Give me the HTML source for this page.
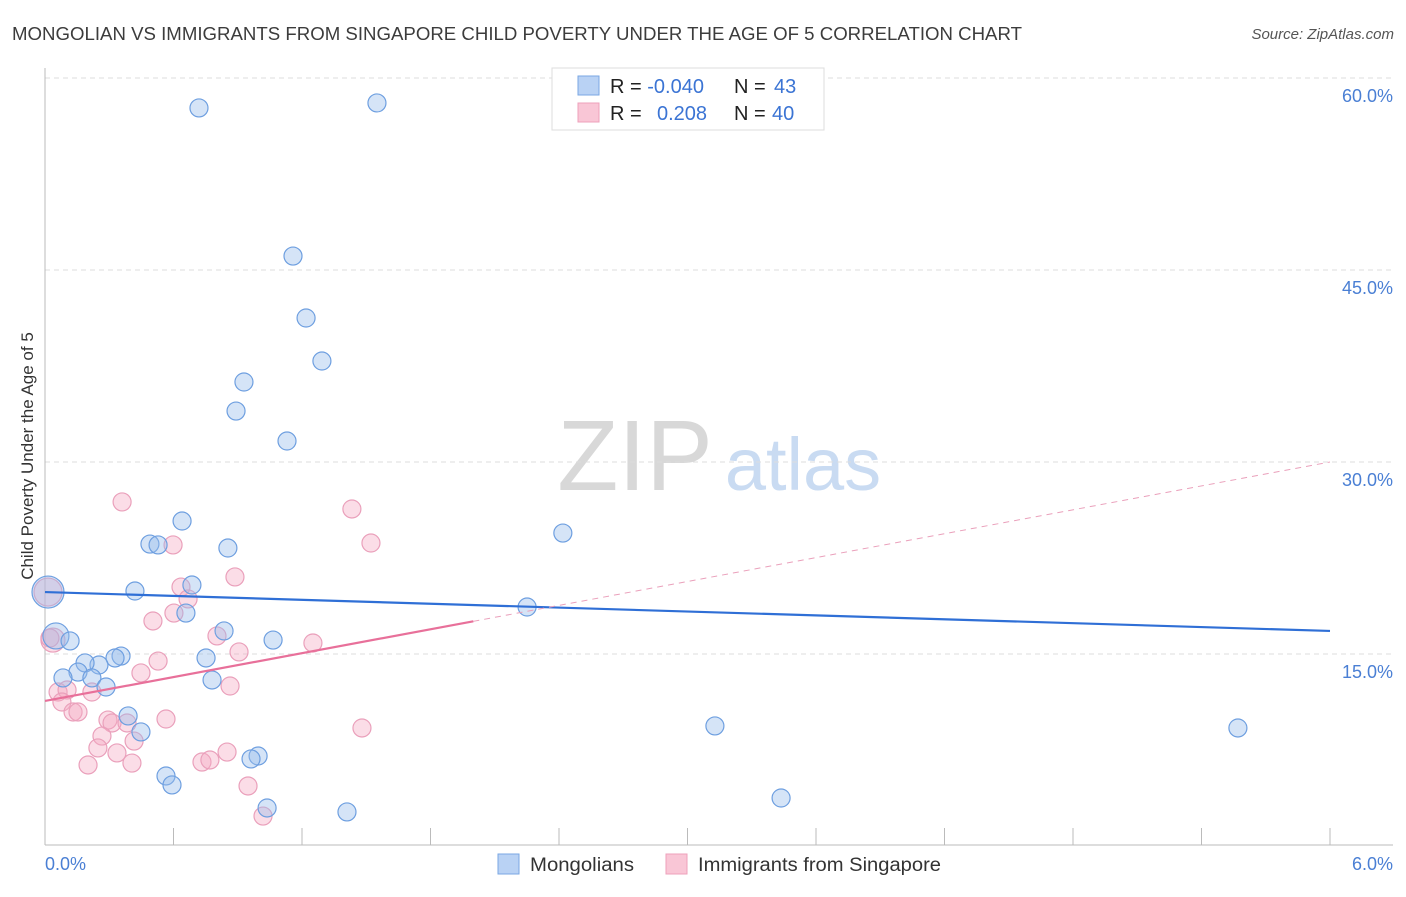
<!DOCTYPE html>
<html><head><meta charset="utf-8"><style>
body{margin:0;background:#fff;font-family:"Liberation Sans",sans-serif;}
svg text{font-family:"Liberation Sans",sans-serif;}
</style></head><body>
<svg id="chart" width="1406" height="892" xmlns="http://www.w3.org/2000/svg">
<text x="12" y="40" font-size="18" fill="#3c3c3c" textLength="1010" lengthAdjust="spacingAndGlyphs">MONGOLIAN VS IMMIGRANTS FROM SINGAPORE CHILD POVERTY UNDER THE AGE OF 5 CORRELATION CHART</text>
<text x="1394" y="39" font-size="15" fill="#555" text-anchor="end" font-style="italic">Source: ZipAtlas.com</text>
<g>
<text x="635" y="490" font-size="100" fill="#d8d8d8" text-anchor="middle" font-family="Liberation Serif, serif">ZIP</text>
<text x="803" y="490" font-size="74" fill="#c9dbf2" text-anchor="middle">atlas</text>
</g>
<g id="grid"></g><g id="axes"></g><g id="pts"></g><g id="lines"></g>
<text transform="translate(33,456) rotate(-90)" font-size="17" fill="#333" text-anchor="middle">Child Poverty Under the Age of 5</text>
<g>
<rect x="552" y="68" width="272" height="62" fill="#fff" stroke="#ddd"/>
<rect x="578" y="76" width="21" height="19" fill="#b9d2f4" stroke="#7aa7e3"/>
<rect x="578" y="103" width="21" height="19" fill="#f9c6d6" stroke="#eea0bb"/>
<text x="610" y="93" font-size="20" fill="#222">R = <tspan fill="#3b74d4">-0.040</tspan></text>
<text x="734" y="93" font-size="20" fill="#222">N = <tspan fill="#3b74d4" x="774">43</tspan></text>
<text x="610" y="120" font-size="20" fill="#222">R = <tspan fill="#3b74d4" x="657">0.208</tspan></text>
<text x="734" y="120" font-size="20" fill="#222">N = <tspan fill="#3b74d4" x="772">40</tspan></text>
</g>
<g>
<rect x="498" y="854" width="21" height="20" fill="#b9d2f4" stroke="#7aa7e3"/>
<text x="530" y="871" font-size="19" fill="#333" textLength="104" lengthAdjust="spacingAndGlyphs">Mongolians</text>
<rect x="666" y="854" width="21" height="20" fill="#f9c6d6" stroke="#eea0bb"/>
<text x="698" y="871" font-size="19" fill="#333" textLength="243" lengthAdjust="spacingAndGlyphs">Immigrants from Singapore</text>
</g>
</svg>
<script>
const blueX=[0.719,1.550,1.158,1.219,1.293,0.929,0.892,1.130,0.640,0.490,0.528,0.854,2.418,0.686,0.420,0.658,0.014,0.051,0.117,0.836,1.065,0.752,0.355,0.327,0.252,0.187,0.154,0.084,0.219,0.285,0.780,2.251,0.388,0.448,3.128,5.570,0.995,0.962,0.565,0.593,1.037,1.410,3.437];
const blueY=[57.66,58.05,46.09,41.25,37.89,36.25,33.98,31.64,25.39,23.59,23.52,23.28,24.45,20.39,19.92,18.20,19.84,16.41,16.02,16.80,16.09,14.69,14.84,14.69,14.14,14.30,13.59,13.13,13.13,12.42,12.97,18.67,10.16,8.91,9.38,9.22,7.03,6.80,5.47,4.77,2.97,2.66,3.75];
const blueR=[9,9,9,9,9,9,9,9,9,9,9,9,9,9,9,9,16,13,9,9,9,9,9,9,9,9,9,9,9,9,9,9,9,9,9,9,9,9,9,9,9,9,9];
const pinkX=[0.360,1.433,1.522,0.598,0.887,0.635,0.668,0.602,0.504,0.803,1.251,0.906,0.528,0.448,0.037,0.061,0.103,0.219,0.079,0.131,0.154,0.294,0.313,0.383,0.565,0.864,0.266,0.247,0.416,0.336,0.201,0.406,1.480,0.733,0.770,0.850,0.948,1.018,0.014,0.023];
const pinkY=[26.88,26.33,23.67,23.52,21.02,20.23,19.30,18.20,17.58,16.41,15.86,15.16,14.45,13.52,16.09,12.03,12.19,12.03,11.25,10.47,10.47,9.84,9.61,9.61,9.92,12.50,8.59,7.66,8.20,7.27,6.33,6.48,9.22,6.56,6.72,7.34,4.69,2.34,19.84,16.25];
const pinkR=[9,9,9,9,9,9,9,9,9,9,9,9,9,9,12,9,9,9,9,9,9,9,9,9,9,9,9,9,9,9,9,9,9,9,9,9,9,9,14,9];
const yTicks=[15,30,45,60];
const yTickLabels=["15.0%","30.0%","45.0%","60.0%"];
const blueLine=[19.84,16.80];
const pinkLine=[11.33,30.0];
const pinkSolidEnd=2.0;
const NS="http://www.w3.org/2000/svg";
const sx=v=>45+v/6*1285, sy=v=>846-v/15*192;
function mk(t,a,p){const e=document.createElementNS(NS,t);for(const k in a)e.setAttribute(k,a[k]);p.appendChild(e);return e;}
const grid=document.getElementById('grid'),axes=document.getElementById('axes'),pts=document.getElementById('pts'),lines=document.getElementById('lines');
yTicks.forEach((t,i)=>{
 const g=mk('line',{x1:45,x2:1393,y1:sy(t),y2:sy(t),stroke:'#ddd','stroke-dasharray':'5,4'},grid);
 
 
 const l=mk('text',{x:1393,y:sy(t)+24,'font-size':18,fill:'#4a7fd4','text-anchor':'end'},axes);
 l.textContent=yTickLabels[i];
 
 
});
let a=mk('line',{x1:45,x2:45,y1:68,y2:845,stroke:'#bbb'},axes);


a=mk('line',{x1:45,x2:1393,y1:845,y2:845,stroke:'#bbb'},axes);


for(let k=1;k<=10;k++){const t=mk('line',{x1:sx(k*0.6),x2:sx(k*0.6),y1:828,y2:845,stroke:'#bbb'},axes);
 
 }
let xl=mk('text',{x:45,y:870,'font-size':18,fill:'#4a7fd4'},axes);xl.textContent='0.0%';


xl=mk('text',{x:1393,y:870,'font-size':18,fill:'#4a7fd4','text-anchor':'end'},axes);xl.textContent='6.0%';


function dots(X,Y,R,f,s,name){X.forEach((x,i)=>{const c=mk('circle',{cx:sx(x),cy:sy(Y[i]),r:R[i],fill:f,stroke:s,'stroke-width':1.2},pts);
 
 });}
dots(pinkX,pinkY,pinkR,'rgba(244,170,195,0.4)','#eaa0bb','singapore-point');
dots(blueX,blueY,blueR,'rgba(150,188,236,0.4)','#6e9fe0','mongolian-point');
let ln=mk('line',{x1:sx(0),y1:sy(blueLine[0]),x2:sx(6),y2:sy(blueLine[1]),stroke:'#2f6fd6','stroke-width':2.2},lines);


const pAt=x=>pinkLine[0]+(pinkLine[1]-pinkLine[0])*x/6;
ln=mk('line',{x1:sx(0),y1:sy(pinkLine[0]),x2:sx(pinkSolidEnd),y2:sy(pAt(pinkSolidEnd)),stroke:'#e8709a','stroke-width':2.2},lines);


ln=mk('line',{x1:sx(pinkSolidEnd),y1:sy(pAt(pinkSolidEnd)),x2:sx(6),y2:sy(pinkLine[1]),stroke:'#eaa0bb','stroke-width':1,'stroke-dasharray':'6,5'},lines);


</script>
</body></html>
